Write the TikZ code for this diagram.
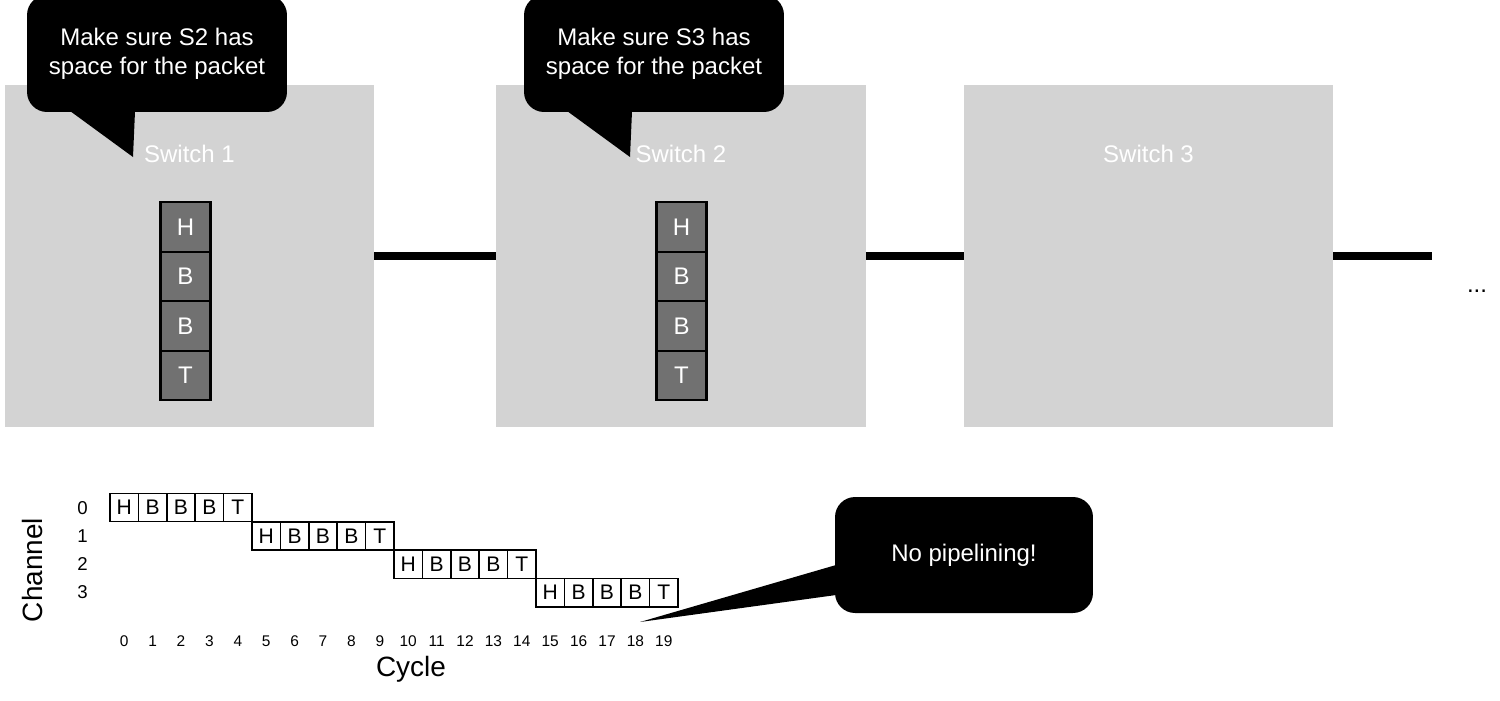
\documentclass[tikz,border=0pt]{standalone}
\usepackage{fontspec}
\setmainfont{Liberation Sans}
\usepackage{xcolor}
\usetikzlibrary{calc}
\definecolor{switchgray}{HTML}{D3D3D3}
\definecolor{cellgray}{HTML}{717171}

\begin{document}
\begin{tikzpicture}[x=0.02cm, y=-0.02cm,
    switchbox/.style={fill=switchgray, minimum width=7.4cm, minimum height=6.84cm, inner sep=0pt, outer sep=0pt},
    swtext/.style={text=white, font=\fontsize{13.66}{16.5}\selectfont},
    link/.style={line width=4pt},
    flitcell/.style={draw=black, line width=1.4pt, fill=cellgray, text=white, minimum width=1cm, minimum height=0.99cm, inner sep=0pt, outer sep=0pt, font=\fontsize{13.66}{16.5}\selectfont},
    chartbox/.style={draw=black, line width=0.9pt, fill=white, minimum width=0.568cm, minimum height=0.568cm, inner sep=0pt, outer sep=0pt, font=\fontsize{12}{14}\selectfont},
    callout/.style={fill=black, text=white, rounded corners=0.4cm, align=center, inner sep=0pt, outer sep=0pt, font=\fontsize{13.66}{16.5}\selectfont},
    axislabel/.style={font=\fontsize{15.9}{18}\selectfont},
    chnum/.style={font=\fontsize{10.6}{12}\selectfont},
    cycnum/.style={font=\fontsize{8.8}{10}\selectfont}]
        \newcommand{\flitpitch}{28.4}
        \newcommand{\flitxstart}{124.2}
        \newcommand{\flitystart}{507.5}
        \useasboundingbox (0,0) rectangle (1500,700);
        \node[switchbox] (sw1) at (189.5,256) {};
        \node[switchbox] (sw2) at (681,256) {};
        \node[switchbox] (sw3) at (1148.5,256) {};
        \node[swtext] (sw1lbl) at (189.5,154) {Switch 1};
        \node[swtext] (sw2lbl) at (681,154) {Switch 2};
        \node[swtext] (sw3lbl) at (1148.5,154) {Switch 3};
        \coordinate (linkend) at (1432,256);
        \draw[link] (sw1.east) -- (sw2.west);
        \draw[link] (sw2.east) -- (sw3.west);
        \draw[link] (sw3.east) -- (linkend);
        \node[swtext, text=black, anchor=base] (more) at (1477,292) {...};
        \foreach \l [count=\i] in {H,B,B,T} {
            \node[flitcell] (a\i) at (185.5,177.5+49.5*\i) {\l};
            \node[flitcell] (b\i) at (681.5,177.5+49.5*\i) {\l};
        }
        \node[callout, minimum width=5.2cm, minimum height=2.34cm] (c1) at (157,53.5) {Make sure S2 has\\space for the packet};
        \coordinate (tip1) at (133,157);
        \fill ($(c1.south west)+(43,-1)$) -- (tip1) -- ($(c1.south west)+(108,-1)$) -- cycle;
        \node[callout, minimum width=5.2cm, minimum height=2.34cm] (c2) at (654,53.5) {Make sure S3 has\\space for the packet};
        \coordinate (tip2) at (630,157);
        \fill ($(c2.south west)+(43,-1)$) -- (tip2) -- ($(c2.south west)+(108,-1)$) -- cycle;
        \foreach \r in {0,...,3} {
            \foreach \l [count=\c from 0] in {H,B,B,B,T} {
                \node[chartbox] (f\r\c) at ({\flitxstart+\flitpitch*(5*\r+\c)},{\flitystart+\flitpitch*\r}) {\l};
            }
            \node[chnum] (ch\r) at (82.5,{508.5+27.7*\r}) {\r};
        }
        \foreach \k in {0,...,19} {
            \node[cycnum] (cy\k) at ({\flitxstart+\flitpitch*\k},641) {\k};
        }
        \node[axislabel, rotate=90] (chlabel) at (33,570) {Channel};
        \node[axislabel] (cylabel) at (411,669) {Cycle};
        \node[callout, minimum width=5.16cm, minimum height=2.32cm] (c3) at (964,555) {No pipelining!};
        \coordinate (tip3) at (640,622);
        \fill ($(c3.north west)+(1,68)$) -- (tip3) -- ($(c3.north west)+(1,98)$) -- cycle;
    \end{tikzpicture}
\end{document}
